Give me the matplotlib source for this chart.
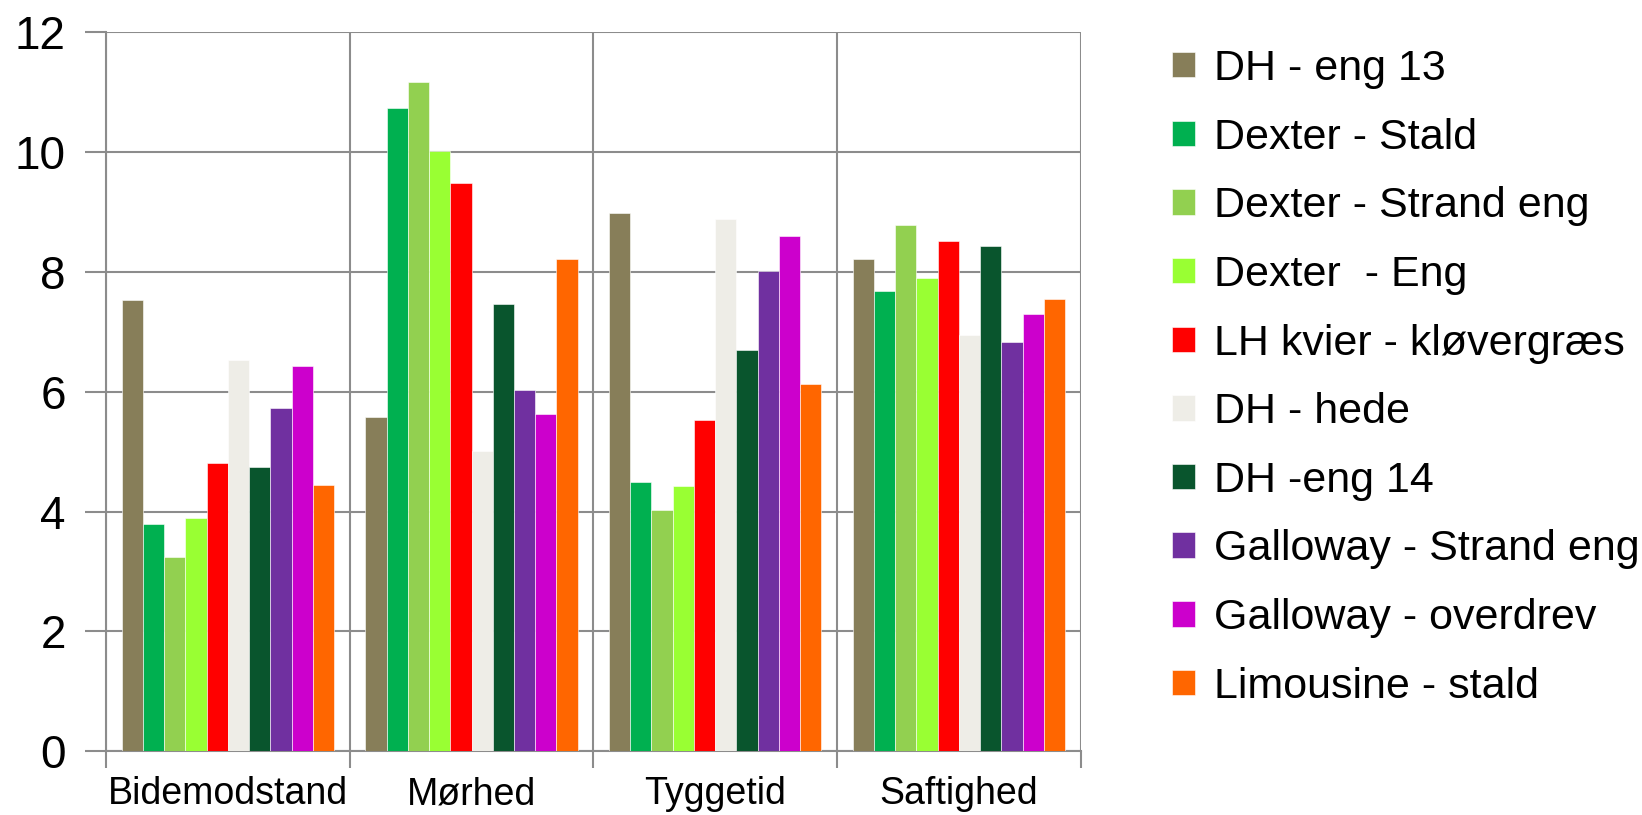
import numpy as np
import matplotlib
matplotlib.use('Agg')
import matplotlib.pyplot as plt

plt.rcParams['font.family'] = ['Liberation Sans', 'DejaVu Sans']

categories = ['Bidemodstand', 'Mørhed', 'Tyggetid', 'Saftighed']
series = ['DH - eng 13', 'Dexter - Stald', 'Dexter - Strand eng', 'Dexter  - Eng',
          'LH kvier - kløvergræs', 'DH - hede', 'DH -eng 14',
          'Galloway - Strand eng', 'Galloway - overdrev', 'Limousine - stald']
colors = ['#877E59', '#00B050', '#92D050', '#99FF33', '#FF0000',
          '#EEEDE7', '#09552D', '#7030A0', '#CC00CC', '#FF6600']

dh_eng13 = [7.52, 5.57, 8.97, 8.21]
dexter_stald = [3.80, 10.73, 4.49, 7.68]
dexter_strand = [3.25, 11.17, 4.02, 8.77]
dexter_eng = [3.90, 10.02, 4.42, 7.90]
lh_kvier = [4.81, 9.48, 5.53, 8.51]
dh_hede = [6.53, 5.01, 8.87, 6.95]
dh_eng14 = [4.75, 7.46, 6.70, 8.43]
galloway_strand = [5.73, 6.03, 8.01, 6.83]
galloway_overdrev = [6.43, 5.63, 8.59, 7.30]
limousine = [4.45, 8.21, 6.13, 7.55]

values = [dh_eng13, dexter_stald, dexter_strand, dexter_eng, lh_kvier,
          dh_hede, dh_eng14, galloway_strand, galloway_overdrev, limousine]

fig = plt.figure(figsize=(16.42, 8.15), dpi=100)
ax = fig.add_axes([0.0646, 0.078, 0.5935, 0.883])

x = np.arange(len(categories))
w = 0.0872
for i, (name, vals, c) in enumerate(zip(series, values, colors)):
    ax.bar(x + (i - 4.5) * w, vals, width=w, color=c, label=name,
           edgecolor='white', linewidth=0.4, zorder=3)

gc = '#8C8C8C'
ax.set_xlim(-0.5, 3.5)
ax.set_ylim(0, 12)
ax.set_yticks(np.arange(0, 13, 2))
ax.set_xticks(x)
ax.set_xticklabels(categories)
ax.set_xticks(np.arange(-0.5, 4, 1), minor=True)
ax.grid(axis='y', which='major', color=gc, linewidth=1.5, zorder=0)
ax.grid(axis='x', which='minor', color=gc, linewidth=1.5, zorder=0)
ax.tick_params(axis='y', labelsize=33, length=15, width=1.5, color=gc, pad=14)
ax.tick_params(axis='x', which='major', labelsize=27, length=0, pad=18)
ax.tick_params(axis='x', which='minor', length=12, width=1.5, color=gc)
for s in ['top', 'right']:
    ax.spines[s].set_visible(False)
for s in ['left', 'bottom']:
    ax.spines[s].set_color(gc)
    ax.spines[s].set_linewidth(1.5)

ax.legend(loc='upper left', bbox_to_anchor=(1.076, 1.0), frameon=False,
          fontsize=31, handlelength=0.53, handleheight=0.53, handletextpad=0.45,
          labelspacing=0.665, borderaxespad=0)

fig.savefig('out.png', dpi=100)
